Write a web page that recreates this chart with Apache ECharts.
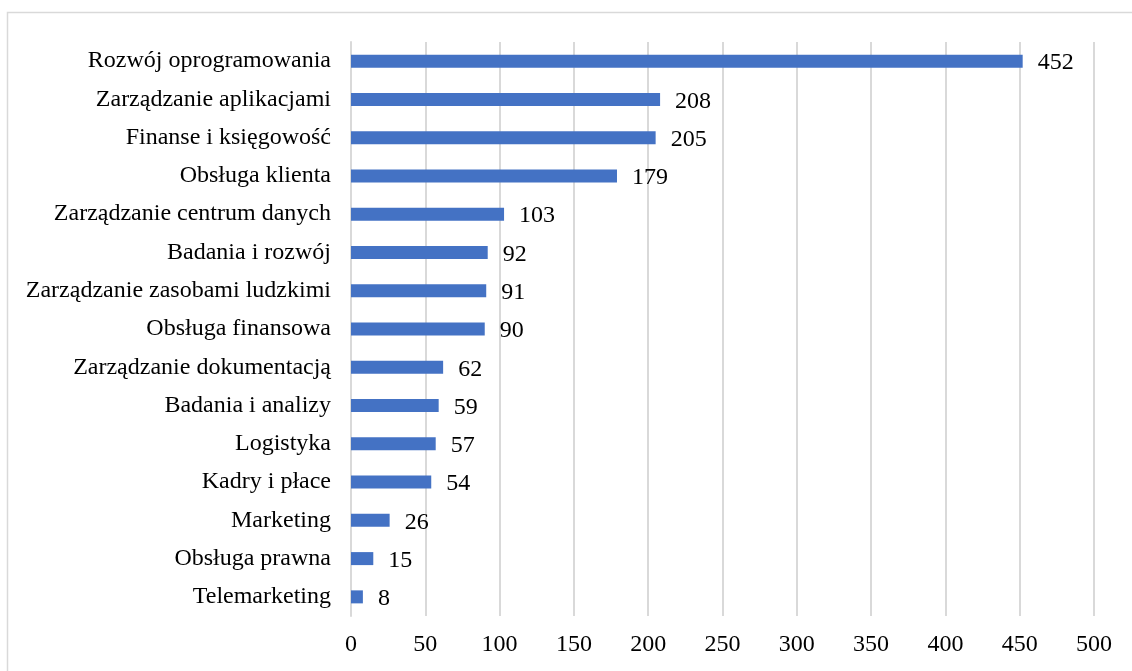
<!DOCTYPE html>
<html>
<head>
<meta charset="utf-8">
<script src="https://cdn.jsdelivr.net/npm/echarts@6/dist/echarts.min.js"></script>
<style>
  html, body { margin: 0; padding: 0; background: #fff; }
  #chart { width: 1132px; height: 671px; }
</style>
</head>
<body>
<div id="chart"></div>
<script>
// Department names, listed top to bottom
const categories = [
  'Rozwój oprogramowania',
  'Zarządzanie aplikacjami',
  'Finanse i księgowość',
  'Obsługa klienta',
  'Zarządzanie centrum danych',
  'Badania i rozwój',
  'Zarządzanie zasobami ludzkimi',
  'Obsługa finansowa',
  'Zarządzanie dokumentacją',
  'Badania i analizy',
  'Logistyka',
  'Kadry i płace',
  'Marketing',
  'Obsługa prawna',
  'Telemarketing'
];
const values = [452, 208, 205, 179, 103, 92, 91, 90, 62, 59, 57, 54, 26, 15, 8];

const FONT = '"Liberation Serif", "Times New Roman", serif';

const chart = echarts.init(document.getElementById('chart'), null, { renderer: 'canvas' });
chart.setOption({
  backgroundColor: '#ffffff',
  animation: false,
  graphic: [{
    type: 'rect',
    shape: { x: 7.5, y: 12.5, width: 1200, height: 800 },
    style: { fill: 'none', stroke: '#d9d9d9', lineWidth: 1.5 },
    silent: true
  }],
  grid: { left: 351, right: 38, top: 42, bottom: 55, containLabel: false },
  xAxis: {
    type: 'value',
    min: 0,
    max: 500,
    interval: 50,
    axisLine: { show: false },
    axisTick: { show: false },
    splitLine: { show: true, lineStyle: { color: '#d9d9d9', width: 2 } },
    axisLabel: { color: '#000', fontFamily: FONT, fontSize: 24, margin: 17 }
  },
  yAxis: {
    type: 'category',
    data: categories,
    inverse: true,
    axisLine: { show: true, lineStyle: { color: '#d9d9d9', width: 2 } },
    axisTick: { show: false },
    axisLabel: { color: '#000', fontFamily: FONT, fontSize: 24, margin: 20 }
  },
  series: [{
    type: 'bar',
    data: values,
    barWidth: 13,
    itemStyle: { color: '#4472C4' },
    label: {
      show: true,
      position: 'right',
      distance: 15,
      color: '#000',
      fontFamily: FONT,
      fontSize: 24,
      offset: [0, 2]
    }
  }]
});
</script>
</body>
</html>
